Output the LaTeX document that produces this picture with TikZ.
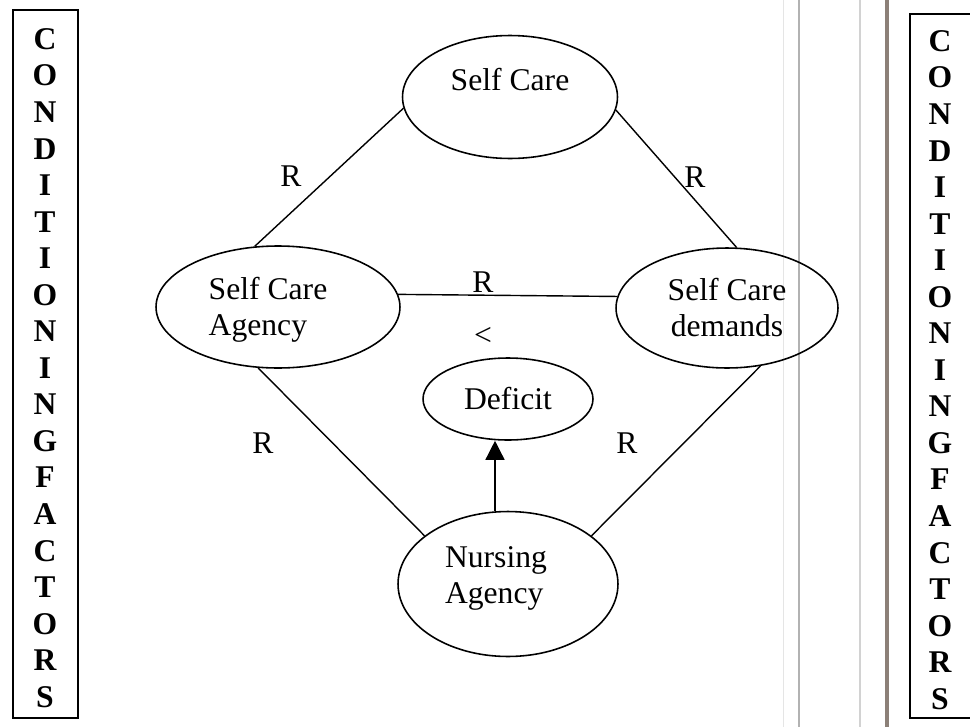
\documentclass[tikz,border=0pt]{standalone}
\usepackage{fontspec}
\setmainfont{Liberation Serif}
\usetikzlibrary{shapes.geometric,arrows.meta}
\definecolor{streak}{rgb}{0.55,0.50,0.47}
\tikzset{>={Triangle[length=0.38cm,width=0.38cm]}}
\tikzset{oval/.style={ellipse,draw,line width=0.9pt,inner sep=0pt}}
\tikzset{sideletters/.style={align=center,font=\bfseries\fontsize{18}{20.8}\selectfont}}

\begin{document}
\begin{tikzpicture}[x=0.02cm,y=-0.02cm,font=\fontsize{18}{20.5}\selectfont]
\useasboundingbox (0,0) rectangle (970,727);

% scan streaks near the fold
\draw[gray!20,line width=0.5pt] (783,0) -- (783,727);
\draw[gray!60,line width=1pt] (799,0) -- (799,727);
\draw[gray!35,line width=1.5pt] (860,0) -- (860,727);
\draw[streak,line width=2.6pt] (887,0) -- (887,727);

% side boxes
\draw[line width=1pt] (13,10) rectangle (78,718);
\draw[line width=1pt] (970,14) -| (910,718) -- (970,718);
\node[sideletters] (CFL) at (45,368) {C\\O\\N\\D\\I\\T\\I\\O\\N\\I\\N\\G\\F\\A\\C\\T\\O\\R\\S};
\node[sideletters] (CFR) at (940,370) {C\\O\\N\\D\\I\\T\\I\\O\\N\\I\\N\\G\\F\\A\\C\\T\\O\\R\\S};

\node[oval,minimum width=4.3cm,minimum height=2.46cm,
      label={[yshift=0.34cm]center:Self Care}] (SC) at (510,97) {};
\node[oval,minimum width=4.88cm,minimum height=2.44cm,
      label={[align=left,xshift=-0.2cm,yshift=-0.06cm]center:{Self Care\\Agency}}] (SCA) at (278,307) {};
\node[oval,minimum width=4.44cm,minimum height=2.4cm,align=center] (SCD) at (727,308) {Self Care\\demands};
\node[oval,minimum width=3.4cm,minimum height=1.64cm] (DEF) at (508,399) {Deficit};
\node[oval,minimum width=4.4cm,minimum height=2.9cm,
      label={[align=left,xshift=-0.24cm,yshift=0.12cm]center:{Nursing\\Agency}}] (NA) at (508,584) {};

\begin{scope}[every edge/.style={draw=black,line width=0.8pt}]
    \path (SC.186) edge (SCA.111);
    \path (SC.353) edge (SCD.81);
    \path (SCA.6) edge (SCD.174);
    \path (SCA.252) edge (NA.150);
    \path (SCD.300) edge (NA.30);
    \path [->] ([xshift=-0.26cm]NA.north) edge ([xshift=-0.26cm]DEF.south);
\end{scope}

\node (R1) at (291,176) {R};
\node (R2) at (695,177) {R};
\node (R3) at (483,282) {R};
\node (LT) at (483,336) {<};
\node (R4) at (263,443) {R};
\node (R5) at (627,443) {R};
\end{tikzpicture}
\end{document}
